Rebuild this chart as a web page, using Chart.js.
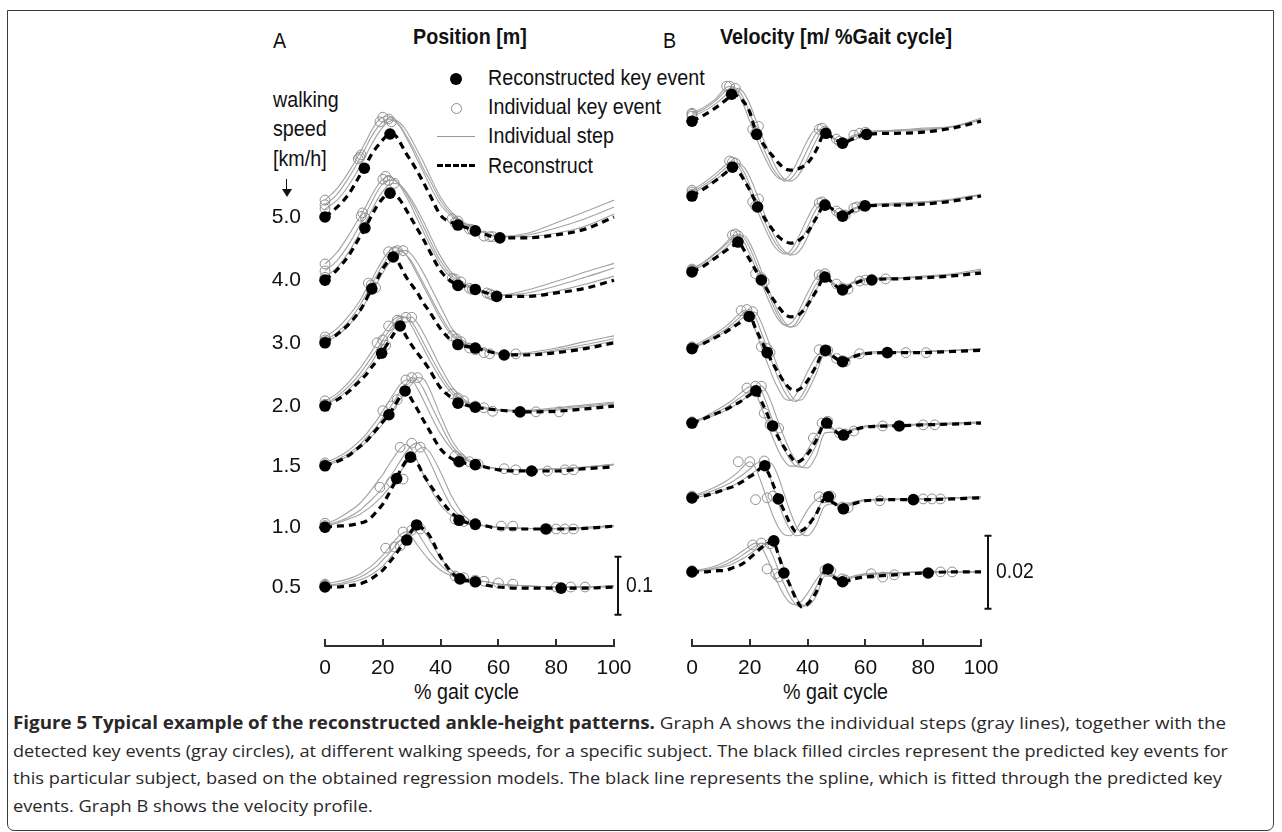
<!DOCTYPE html>
<html><head><meta charset="utf-8">
<script src="https://cdn.jsdelivr.net/npm/chart.js@4.4.0/dist/chart.umd.min.js"></script>
<style>
html,body{margin:0;padding:0;background:#fff;}
body{width:1282px;height:832px;position:relative;overflow:hidden;color:#111;font-family:"Liberation Sans",Arial,sans-serif;}
#frame{position:absolute;left:7px;top:10px;width:1267px;height:821px;border:1.5px solid #3c3c3c;border-radius:0 0 7px 7px;box-sizing:border-box;}
.t{position:absolute;white-space:nowrap;font-size:22px;line-height:22px;transform:scaleX(0.895);transform-origin:0 0;}
.b{font-weight:bold;}
canvas{position:absolute;}
.cap{position:absolute;left:13px;white-space:nowrap;font-family:"Open Sans",sans-serif;font-size:17px;line-height:20px;color:#2a2728;transform-origin:0 50%;}
.mk{position:absolute;}
</style>
</head><body>
<div id="frame"></div>
<div class="t" style="left:273px;top:30px;">A</div>
<div class="t b" style="left:413px;top:26px;">Position [m]</div>
<div class="t" style="left:663px;top:30px;">B</div>
<div class="t b" style="left:720px;top:26px;">Velocity [m/ %Gait cycle]</div>

<div class="mk" style="left:450px;top:73px;width:12px;height:12px;border-radius:50%;background:#000;"></div>
<div class="mk" style="left:451px;top:103px;width:9px;height:9px;border-radius:50%;border:1px solid #8c8c8c;"></div>
<div class="mk" style="left:437px;top:136px;width:38px;height:0;border-top:1.2px solid #9a9a9a;"></div>
<div class="mk" style="left:437px;top:164px;width:38px;height:0;border-top:3px dashed #000;"></div>
<div class="t" style="left:488px;top:67px;">Reconstructed key event</div>
<div class="t" style="left:488px;top:96px;">Individual key event</div>
<div class="t" style="left:488px;top:125px;">Individual step</div>
<div class="t" style="left:488px;top:155px;">Reconstruct</div>

<div class="t" style="left:273px;top:89px;">walking</div>
<div class="t" style="left:273px;top:118px;">speed</div>
<div class="t" style="left:273px;top:148px;">[km/h]</div>
<div class="mk" style="left:286px;top:179px;width:0;height:11px;border-left:1.6px solid #111;"></div>
<div class="mk" style="left:282px;top:189px;width:0;height:0;border-left:5px solid transparent;border-right:5px solid transparent;border-top:8px solid #111;"></div>

<div class="t" style="left:415px;top:681px;" id="xtA">% gait cycle</div>
<div class="t" style="left:782px;top:681px;" id="xtB">% gait cycle</div>

<canvas id="cA" width="440" height="640" style="left:230px;top:60px;"></canvas>
<canvas id="cB" width="420" height="640" style="left:660px;top:60px;"></canvas>

<div class="cap" id="l1" style="top:713px;"><b>Figure 5 Typical example of the reconstructed ankle-height patterns.</b> Graph A shows the individual steps (gray lines), together with the</div>
<div class="cap" id="l2" style="top:741px;">detected key events (gray circles), at different walking speeds, for a specific subject. The black filled circles represent the predicted key events for</div>
<div class="cap" id="l3" style="top:768px;">this particular subject, based on the obtained regression models. The black line represents the spline, which is fitted through the predicted key</div>
<div class="cap" id="l4" style="top:796px;">events. Graph B shows the velocity profile.</div>

<script>
// ---------- categories / ticks ----------
const speeds = ['5.0','4.0','3.0','2.0','1.5','1.0','0.5'];
const xTicks = [0,20,40,60,80,100];
const rowOffsetA = [0.638,0.529,0.421,0.312,0.209,0.103,0];      // m, vertical stacking of rows
const rowOffsetB = [0.1235,0.1030,0.0822,0.0612,0.0408,0.0203,0]; // m/%, vertical stacking of rows
const pctGrid = [0,4,8,12,14,16,18,20,22,24,26,28,30,32,34,36,40,44,48,52,56,60,70,80,90,100];
const velGrid = [0,4,8,12,14,16,18,20,22,24,26,28,30,32,34,36,38,40,43,46,49,52,56,60,70,80,90,100];
const scaleBarA = [-0.048,0.052]; // 0.1 m
const scaleBarB = [-0.0101,0.0099]; // 0.02

// ---------- Position (m) ----------
const posRec_50 = [0,.016,.038,.071,.088,.107,.121,.133,.141,.141,.128,.110,.095,.078,.060,.041,.003,-.010,-.017,-.024,-.031,-.036,-.036,-.031,-.021,0];
const posInd_50a = [.029,.048,.076,.110,.129,.148,.164,.172,.174,.167,.155,.138,.119,.098,.078,.057,.021,0,-.012,-.021,-.029,-.034,-.028,-.010,.009,.029];
const posInd_50b = [.021,.038,.066,.100,.119,.138,.153,.164,.169,.166,.157,.141,.124,.105,.084,.066,.028,.003,-.010,-.021,-.029,-.034,-.031,-.019,-.003,.017];
const posInd_50c = [.014,.028,.053,.086,.105,.124,.141,.155,.164,.167,.162,.150,.133,.114,.095,.074,.034,.007,-.009,-.019,-.029,-.034,-.034,-.028,-.016,.005];
const posKeyX_50 = [0,13.6,22.5,46,52,60.5];
const posKeyY_50 = [0,.084,.143,-.014,-.024,-.036];
const posIndKeyX_50 = [0,0,0,12,12.5,11.5,20,22,23,19,44,46,45,50,51,55,57,58];
const posIndKeyY_50 = [.029,.021,.014,.103,.107,.100,.172,.169,.164,.164,-.003,-.007,-.010,-.021,-.022,-.033,-.034,-.034];

const posRec_40 = [0,.017,.041,.074,.091,.110,.128,.141,.150,.148,.138,.122,.105,.088,.071,.052,.016,-.003,-.010,-.016,-.022,-.028,-.028,-.022,-.014,0];
const posInd_40a = [.028,.047,.076,.109,.126,.145,.162,.174,.179,.174,.162,.145,.126,.105,.084,.064,.026,.003,-.009,-.016,-.022,-.026,-.017,-.002,.014,.029];
const posInd_40b = [.016,.033,.060,.095,.114,.133,.152,.166,.172,.172,.164,.150,.133,.114,.093,.072,.033,.007,-.007,-.014,-.021,-.026,-.022,-.010,.005,.021];
const posInd_40c = [.005,.021,.047,.081,.100,.119,.138,.153,.164,.167,.164,.153,.138,.121,.102,.081,.041,.012,-.005,-.014,-.021,-.026,-.026,-.019,-.007,.007];
const posKeyX_40 = [0,13.8,22.5,46,52,59.4];
const posKeyY_40 = [0,.090,.150,-.009,-.016,-.028];
const posIndKeyX_40 = [0,0,0,13,14,12.5,20,22,24,21,44,45,47,50,51,56,57,58];
const posIndKeyY_40 = [.028,.016,.005,.116,.107,.110,.174,.172,.167,.179,.003,.002,-.003,-.014,-.016,-.022,-.024,-.026];

const posRec_30 = [0,.014,.031,.055,.072,.093,.109,.128,.141,.148,.133,.114,.100,.086,.069,.055,.024,.003,-.005,-.009,-.014,-.019,-.021,-.017,-.010,0];
const posInd_30a = [.010,.024,.045,.072,.090,.107,.126,.143,.157,.164,.162,.152,.136,.117,.098,.079,.041,.012,-.002,-.009,-.014,-.019,-.017,-.009,.002,.012];
const posInd_30b = [.005,.017,.036,.064,.081,.100,.117,.134,.148,.157,.159,.152,.140,.122,.103,.084,.047,.016,0,-.007,-.014,-.019,-.019,-.012,-.003,.007];
const posInd_30c = [.002,.012,.029,.053,.069,.086,.103,.121,.136,.148,.157,.159,.152,.138,.121,.102,.062,.024,.003,-.005,-.012,-.017,-.019,-.014,-.007,.003];
const posKeyX_30 = [0,16.2,23.6,46,52,62];
const posKeyY_30 = [0,.093,.148,-.003,-.009,-.021];
const posIndKeyX_30 = [0,0,0,15,16,17.5,22,24,27,25,44,45.5,47,50,52,55,57,66];
const posIndKeyY_30 = [.010,.005,.002,.103,.100,.095,.157,.157,.159,.159,.012,.007,.002,-.009,-.012,-.017,-.019,-.019];

const posRec_20 = [0,.010,.024,.043,.053,.066,.079,.095,.110,.126,.138,.121,.105,.091,.078,.064,.031,.014,.003,-.002,-.005,-.007,-.010,-.009,-.005,0];
const posInd_20a = [.009,.021,.040,.064,.078,.093,.109,.124,.138,.150,.155,.152,.138,.119,.100,.081,.047,.021,.007,0,-.005,-.007,-.007,-.003,.002,.007];
const posInd_20b = [.003,.016,.033,.055,.069,.083,.098,.114,.129,.143,.152,.153,.145,.129,.110,.091,.055,.026,.009,0,-.005,-.007,-.009,-.005,0,.005];
const posInd_20c = [.002,.012,.028,.048,.060,.074,.090,.105,.121,.134,.147,.153,.153,.143,.126,.107,.067,.033,.012,.002,-.003,-.007,-.009,-.007,-.002,.003];
const posKeyX_20 = [0,19.6,26,46,52,67.5];
const posKeyY_20 = [0,.091,.138,.005,-.002,-.010];
const posIndKeyX_20 = [0,0,0,18,20,21,22,25,28,30,44,46,48,52,55,58,73,81];
const posIndKeyY_20 = [.009,.003,.002,.109,.114,.105,.138,.148,.153,.153,.021,.014,.009,0,-.003,-.009,-.010,-.010];

const posRec_15 = [0,.007,.017,.033,.041,.052,.064,.076,.088,.103,.119,.129,.114,.097,.079,.062,.029,.012,.005,.002,-.003,-.007,-.009,-.009,-.005,-.002];
const posInd_15a = [.005,.014,.026,.043,.053,.066,.079,.095,.110,.126,.140,.148,.147,.133,.114,.093,.055,.028,.012,.003,-.002,-.005,-.007,-.005,-.002,.003];
const posInd_15b = [.002,.010,.021,.036,.047,.057,.069,.083,.097,.112,.128,.141,.152,.148,.133,.112,.071,.034,.014,.003,-.002,-.005,-.007,-.005,-.002,.002];
const posInd_15c = [0,.007,.017,.031,.040,.050,.060,.072,.086,.100,.114,.128,.141,.152,.150,.134,.086,.043,.017,.005,-.002,-.005,-.007,-.005,-.003,.002];
const posKeyX_15 = [0,22.1,27.7,46.4,52,71.5];
const posKeyY_15 = [0,.088,.129,.007,.002,-.009];
const posIndKeyX_15 = [0,0,0,20,23,25,28,30,32,45,47,50,53,62,66,77,83,86];
const posIndKeyY_15 = [.005,.002,0,.095,.103,.114,.148,.152,.152,.017,.012,.007,.003,-.005,-.007,-.009,-.007,-.007];

const posRec_10 = [0,.002,.003,.007,.010,.017,.028,.040,.057,.076,.097,.114,.121,.110,.091,.076,.047,.024,.010,.005,.002,-.002,-.003,-.003,-.002,.002];
const posInd_10a = [.005,.014,.026,.041,.052,.064,.078,.091,.107,.122,.136,.143,.134,.114,.091,.071,.038,.019,.009,.005,.002,0,-.002,-.002,0,.003];
const posInd_10b = [.003,.009,.017,.029,.038,.047,.057,.069,.083,.098,.114,.129,.141,.145,.134,.116,.072,.034,.014,.005,.002,0,-.002,-.002,0,.002];
const posInd_10c = [.002,.007,.014,.022,.029,.036,.045,.055,.067,.081,.095,.109,.121,.133,.138,.131,.095,.052,.021,.007,.002,0,-.002,-.003,-.002,.002];
const posKeyX_10 = [0,24.8,29.6,46.4,52,76.4];
const posKeyY_10 = [0,.084,.121,.012,.005,-.003];
const posIndKeyX_10 = [0,0,0,19,23,27,26,30,33,45,48,52,61,65,77,80,83,86];
const posIndKeyY_10 = [.007,.003,0,.069,.078,.083,.138,.145,.138,.014,.010,.007,.002,.002,-.003,-.003,-.003,-.003];

const posRec_05 = [0,0,.002,.005,.009,.014,.021,.029,.041,.053,.067,.079,.097,.107,.100,.090,.052,.024,.012,.009,.003,0,-.002,-.002,-.002,0];
const posInd_05a = [.005,.009,.014,.022,.029,.036,.045,.055,.067,.079,.090,.095,.086,.072,.059,.047,.029,.019,.014,.010,.009,.005,.002,0,0,.002];
const posInd_05b = [.003,.005,.010,.017,.022,.029,.036,.047,.057,.069,.081,.091,.098,.093,.078,.062,.038,.022,.016,.012,.009,.005,.002,0,0,.002];
const posInd_05c = [.002,.003,.007,.012,.016,.021,.028,.036,.047,.059,.071,.083,.093,.100,.097,.083,.050,.028,.017,.012,.009,.005,.002,0,0,0];
const posKeyX_05 = [0,28.3,31.7,46.7,52,81.7];
const posKeyY_05 = [0,.081,.107,.014,.009,-.002];
const posIndKeyX_05 = [0,0,0,21,24,26,27,30,33,45,48,52,55,60,65,80,85,90];
const posIndKeyY_05 = [.005,.003,.002,.067,.069,.071,.095,.098,.100,.019,.016,.012,.010,.007,.005,0,0,0];

// ---------- Velocity (m / % gait cycle) ----------
const velRec_50 = [0,.0016,.0036,.0060,.0074,.0068,.0052,.0025,-.0027,-.0055,-.0077,-.0096,-.0115,-.0129,-.0134,-.0132,-.0126,-.0115,-.0079,-.0033,-.0047,-.0060,-.0047,-.0036,-.0033,-.0030,-.0019,0];
const velInd_50a = [.0022,.0038,.0060,.0093,.0096,.0077,.0041,0,-.0041,-.0079,-.0112,-.0140,-.0156,-.0159,-.0145,-.0118,-.0085,-.0052,-.0022,-.0027,-.0049,-.0055,-.0038,-.0030,-.0025,-.0019,-.0014,.0008];
const velInd_50b = [.0019,.0033,.0055,.0085,.0093,.0085,.0060,.0022,-.0019,-.0060,-.0096,-.0129,-.0151,-.0164,-.0159,-.0140,-.0110,-.0077,-.0033,-.0022,-.0047,-.0058,-.0041,-.0030,-.0025,-.0022,-.0016,.0005];
const velInd_50c = [.0014,.0027,.0047,.0074,.0088,.0090,.0077,.0047,.0005,-.0036,-.0074,-.0110,-.0140,-.0159,-.0164,-.0156,-.0134,-.0101,-.0052,-.0019,-.0044,-.0060,-.0044,-.0033,-.0027,-.0025,-.0016,.0003];
const velKeyX_50 = [0,13.7,22.4,46.3,52.1,60.4];
const velKeyY_50 = [0,.0074,-.0036,-.0033,-.0060,-.0036];
const velIndKeyX_50 = [0,0,0,12,13,15,21,22,23,44,45,46,50,51,52,56,58,60];
const velIndKeyY_50 = [.0022,.0019,.0014,.0096,.0096,.0090,-.0022,-.0033,-.0014,-.0022,-.0019,-.0027,-.0049,-.0055,-.0060,-.0038,-.0033,-.0030];

const velRec_40 = [0,.0019,.0041,.0066,.0079,.0068,.0044,.0016,-.0016,-.0047,-.0071,-.0093,-.0112,-.0123,-.0129,-.0126,-.0115,-.0099,-.0060,-.0025,-.0038,-.0055,-.0038,-.0027,-.0025,-.0022,-.0014,0];
const velInd_40a = [.0016,.0036,.0060,.0088,.0096,.0082,.0052,.0014,-.0027,-.0066,-.0101,-.0132,-.0151,-.0159,-.0151,-.0126,-.0093,-.0060,-.0022,-.0019,-.0041,-.0049,-.0033,-.0025,-.0019,-.0016,-.0008,.0005];
const velInd_40b = [.0011,.0030,.0052,.0079,.0090,.0088,.0066,.0030,-.0011,-.0049,-.0085,-.0118,-.0142,-.0156,-.0159,-.0145,-.0118,-.0085,-.0036,-.0016,-.0041,-.0052,-.0036,-.0027,-.0022,-.0016,-.0011,.0003];
const velInd_40c = [.0005,.0025,.0044,.0068,.0082,.0090,.0079,.0052,.0014,-.0027,-.0066,-.0101,-.0132,-.0151,-.0162,-.0159,-.0142,-.0112,-.0060,-.0022,-.0038,-.0052,-.0036,-.0027,-.0025,-.0019,-.0011,.0003];
const velKeyX_40 = [0,14,22.7,46,52.1,59.9];
const velKeyY_40 = [0,.0079,-.0030,-.0025,-.0055,-.0027];
const velIndKeyX_40 = [0,0,0,13,14,15,21,22,23,44,45,46,50,51,53,56,57,59];
const velIndKeyY_40 = [.0016,.0011,.0005,.0096,.0093,.0090,-.0016,-.0027,-.0008,-.0019,-.0016,-.0022,-.0041,-.0047,-.0052,-.0033,-.0030,-.0027];

const velRec_30 = [0,.0016,.0038,.0060,.0071,.0082,.0060,.0033,.0005,-.0022,-.0049,-.0074,-.0096,-.0115,-.0123,-.0121,-.0110,-.0090,-.0052,-.0014,-.0033,-.0049,-.0033,-.0022,-.0019,-.0016,-.0011,-.0003];
const velInd_30a = [.0008,.0027,.0052,.0082,.0099,.0101,.0082,.0049,.0011,-.0030,-.0068,-.0104,-.0132,-.0145,-.0142,-.0123,-.0090,-.0058,-.0016,-.0008,-.0030,-.0041,-.0027,-.0019,-.0016,-.0011,-.0005,.0008];
const velInd_30b = [.0005,.0025,.0049,.0077,.0093,.0104,.0093,.0066,.0027,-.0014,-.0052,-.0090,-.0123,-.0145,-.0151,-.0140,-.0112,-.0079,-.0033,-.0011,-.0033,-.0044,-.0027,-.0019,-.0016,-.0014,-.0008,.0003];
const velInd_30c = [.0003,.0019,.0041,.0068,.0085,.0099,.0099,.0079,.0044,.0003,-.0038,-.0077,-.0112,-.0137,-.0151,-.0148,-.0129,-.0099,-.0049,-.0014,-.0036,-.0047,-.0030,-.0022,-.0019,-.0014,-.0008,.0003];
const velKeyX_30 = [0,15.9,24,46,52.1,62.2];
const velKeyY_30 = [0,.0082,-.0022,-.0014,-.0049,-.0022];
const velIndKeyX_30 = [0,0,0,14,15,16,22,24,25,44,45,46,50,52,54,58,60,67];
const velIndKeyY_30 = [.0008,.0005,.0003,.0101,.0104,.0099,-.0005,-.0016,-.0027,-.0008,-.0011,-.0005,-.0033,-.0044,-.0047,-.0025,-.0022,-.0019];

const velRec_20 = [0,.0014,.0030,.0047,.0058,.0068,.0079,.0088,.0055,.0022,-.0011,-.0041,-.0068,-.0093,-.0110,-.0115,-.0107,-.0088,-.0047,-.0005,-.0022,-.0036,-.0022,-.0014,-.0011,-.0011,-.0008,-.0005];
const velInd_20a = [.0005,.0022,.0041,.0063,.0077,.0093,.0104,.0090,.0049,.0005,-.0038,-.0079,-.0112,-.0137,-.0142,-.0126,-.0096,-.0063,-.0022,-.0003,-.0022,-.0030,-.0019,-.0011,-.0008,-.0008,-.0005,0];
const velInd_20b = [.0003,.0016,.0036,.0055,.0068,.0082,.0099,.0107,.0085,.0044,0,-.0044,-.0085,-.0118,-.0140,-.0145,-.0129,-.0099,-.0047,-.0008,-.0025,-.0033,-.0019,-.0011,-.0008,-.0008,-.0005,0];
const velInd_20c = [0,.0014,.0030,.0049,.0060,.0074,.0088,.0101,.0099,.0071,.0030,-.0014,-.0058,-.0096,-.0126,-.0142,-.0140,-.0118,-.0068,-.0014,-.0027,-.0036,-.0022,-.0014,-.0011,-.0008,-.0005,-.0003];
const velKeyX_20 = [0,19.8,26,46.2,52.1,67.6];
const velKeyY_20 = [0,.0088,-.0011,-.0005,-.0036,-.0011];
const velIndKeyX_20 = [0,0,0,17,19,21,24,26,27,44,46,47,50,52,53,58,74,81];
const velIndKeyY_20 = [.0005,.0003,0,.0104,.0107,.0101,.0005,0,-.0011,-.0003,-.0008,-.0005,-.0027,-.0033,-.0036,-.0014,-.0011,-.0011];

const velRec_15 = [0,.0011,.0025,.0038,.0047,.0055,.0066,.0077,.0088,.0060,.0025,-.0011,-.0041,-.0068,-.0090,-.0107,-.0101,-.0085,-.0047,-.0003,-.0019,-.0033,-.0019,-.0011,-.0008,-.0005,-.0003,0];
const velInd_15a = [.0003,.0016,.0033,.0052,.0063,.0077,.0090,.0099,.0082,.0044,0,-.0041,-.0077,-.0104,-.0118,-.0118,-.0101,-.0074,-.0033,.0003,-.0016,-.0027,-.0016,-.0008,-.0005,-.0003,0,.0003];
const velInd_15b = [.0003,.0014,.0027,.0044,.0055,.0066,.0077,.0090,.0101,.0088,.0049,.0005,-.0038,-.0074,-.0101,-.0118,-.0121,-.0104,-.0060,-.0005,-.0019,-.0030,-.0016,-.0008,-.0005,-.0003,0,.0003];
const velInd_15c = [0,.0011,.0022,.0036,.0044,.0055,.0066,.0079,.0093,.0101,.0082,.0044,0,-.0041,-.0077,-.0104,-.0121,-.0123,-.0090,-.0027,-.0025,-.0033,-.0019,-.0011,-.0008,-.0005,-.0003,0];
const velKeyX_15 = [0,22.1,27.9,46.6,52.4,71.7];
const velKeyY_15 = [0,.0088,-.0008,0,-.0033,-.0008];
const velIndKeyX_15 = [0,0,0,19,22,24,25,27,30,42,45,47,51,53,56,66,80,84];
const velIndKeyY_15 = [.0003,.0003,0,.0096,.0101,.0101,.0027,-.0005,-.0014,-.0041,0,.0005,-.0027,-.0030,-.0022,-.0008,-.0005,-.0005];

const velRec_10 = [0,.0005,.0014,.0025,.0030,.0038,.0047,.0058,.0068,.0082,.0074,.0038,-.0003,-.0038,-.0071,-.0093,-.0090,-.0077,-.0044,-.0003,-.0014,-.0027,-.0016,-.0008,-.0005,-.0005,-.0003,0];
const velInd_10a = [.0005,.0016,.0030,.0047,.0058,.0071,.0088,.0099,.0082,.0041,-.0005,-.0049,-.0082,-.0101,-.0104,-.0088,-.0060,-.0033,-.0005,.0005,-.0011,-.0022,-.0011,-.0005,-.0003,-.0003,0,.0003];
const velInd_10b = [.0003,.0011,.0022,.0036,.0044,.0055,.0066,.0079,.0093,.0099,.0077,.0033,-.0016,-.0058,-.0088,-.0104,-.0101,-.0082,-.0041,0,-.0014,-.0025,-.0014,-.0005,-.0003,-.0003,0,.0003];
const velInd_10c = [0,.0005,.0014,.0025,.0033,.0041,.0052,.0063,.0074,.0085,.0099,.0090,.0055,.0008,-.0038,-.0077,-.0099,-.0104,-.0074,-.0022,-.0016,-.0027,-.0016,-.0008,-.0005,-.0003,0,0];
const velKeyX_10 = [0,25.2,29.9,47.2,52.4,76.6];
const velKeyY_10 = [0,.0088,-.0003,.0003,-.0030,-.0005];
const velIndKeyX_10 = [0,0,0,16,20,25,22,26,28,44,46,48,52,54,65,80,83,86];
const velIndKeyY_10 = [.0005,.0003,0,.0099,.0099,.0101,-.0005,0,.0005,.0003,0,.0005,-.0025,-.0027,-.0008,-.0003,-.0003,-.0003];

const velRec_05 = [0,0,.0003,.0005,.0011,.0016,.0025,.0038,.0052,.0066,.0077,.0085,.0044,-.0003,-.0038,-.0074,-.0096,-.0088,-.0055,0,-.0014,-.0027,-.0019,-.0014,-.0008,-.0003,0,0];
const velInd_05a = [.0003,.0008,.0016,.0030,.0038,.0049,.0060,.0071,.0079,.0068,.0038,0,-.0036,-.0066,-.0085,-.0090,-.0079,-.0058,-.0022,.0005,-.0008,-.0019,-.0011,-.0005,-.0003,0,0,0];
const velInd_05b = [.0003,.0005,.0011,.0022,.0030,.0038,.0049,.0060,.0071,.0079,.0074,.0044,.0003,-.0036,-.0068,-.0090,-.0096,-.0082,-.0041,.0003,-.0011,-.0022,-.0014,-.0005,-.0003,0,0,0];
const velInd_05c = [0,.0003,.0008,.0016,.0022,.0030,.0038,.0049,.0060,.0071,.0079,.0077,.0049,.0008,-.0033,-.0068,-.0090,-.0093,-.0066,-.0011,-.0014,-.0025,-.0014,-.0008,-.0003,0,0,0];
const velKeyX_05 = [0,28.3,31.8,47.1,52.1,81.7];
const velKeyY_05 = [0,.0085,-.0003,.0008,-.0027,-.0003];
const velIndKeyX_05 = [0,0,0,21,24,27,26,29,30,46,48,52,53,62,66,70,86,90];
const velIndKeyY_05 = [.0003,.0003,0,.0074,.0079,.0077,.0008,-.0005,-.0014,.0005,.0003,-.0019,-.0022,-.0005,-.0014,-.0008,0,0];

// ---------- assemble ----------
const posRows = [
  [posRec_50,[posInd_50a,posInd_50b,posInd_50c],posKeyX_50,posKeyY_50,posIndKeyX_50,posIndKeyY_50],
  [posRec_40,[posInd_40a,posInd_40b,posInd_40c],posKeyX_40,posKeyY_40,posIndKeyX_40,posIndKeyY_40],
  [posRec_30,[posInd_30a,posInd_30b,posInd_30c],posKeyX_30,posKeyY_30,posIndKeyX_30,posIndKeyY_30],
  [posRec_20,[posInd_20a,posInd_20b,posInd_20c],posKeyX_20,posKeyY_20,posIndKeyX_20,posIndKeyY_20],
  [posRec_15,[posInd_15a,posInd_15b,posInd_15c],posKeyX_15,posKeyY_15,posIndKeyX_15,posIndKeyY_15],
  [posRec_10,[posInd_10a,posInd_10b,posInd_10c],posKeyX_10,posKeyY_10,posIndKeyX_10,posIndKeyY_10],
  [posRec_05,[posInd_05a,posInd_05b,posInd_05c],posKeyX_05,posKeyY_05,posIndKeyX_05,posIndKeyY_05]
];
const velRows = [
  [velRec_50,[velInd_50a,velInd_50b,velInd_50c],velKeyX_50,velKeyY_50,velIndKeyX_50,velIndKeyY_50],
  [velRec_40,[velInd_40a,velInd_40b,velInd_40c],velKeyX_40,velKeyY_40,velIndKeyX_40,velIndKeyY_40],
  [velRec_30,[velInd_30a,velInd_30b,velInd_30c],velKeyX_30,velKeyY_30,velIndKeyX_30,velIndKeyY_30],
  [velRec_20,[velInd_20a,velInd_20b,velInd_20c],velKeyX_20,velKeyY_20,velIndKeyX_20,velIndKeyY_20],
  [velRec_15,[velInd_15a,velInd_15b,velInd_15c],velKeyX_15,velKeyY_15,velIndKeyX_15,velIndKeyY_15],
  [velRec_10,[velInd_10a,velInd_10b,velInd_10c],velKeyX_10,velKeyY_10,velIndKeyX_10,velIndKeyY_10],
  [velRec_05,[velInd_05a,velInd_05b,velInd_05c],velKeyX_05,velKeyY_05,velIndKeyX_05,velIndKeyY_05]
];

function buildDatasets(rows, grid, offs) {
  const ds = [];
  rows.forEach((r, i) => {
    const off = offs[i];
    const [rec, inds, kx, ky, ikx, iky] = r;
    inds.forEach(arr => ds.push({
      data: grid.map((x, j) => ({x, y: arr[j] + off})),
      borderColor: '#a3a3a3', borderWidth: 1.1, pointRadius: 0,
      cubicInterpolationMode: 'monotone', order: 3, clip: false
    }));
    ds.push({
      data: ikx.map((x, j) => ({x, y: iky[j] + off})), showLine: false,
      pointRadius: 4.9, pointBorderWidth: 1, pointBorderColor: '#8f8f8f',
      pointBackgroundColor: 'rgba(255,255,255,0)', order: 2, clip: false
    });
    ds.push({
      data: grid.map((x, j) => ({x, y: rec[j] + off})),
      borderColor: '#000', borderWidth: 3.2, borderDash: [7, 5], pointRadius: 0,
      cubicInterpolationMode: 'monotone', order: 1, clip: false
    });
    ds.push({
      data: kx.map((x, j) => ({x, y: ky[j] + off})), showLine: false,
      pointRadius: 5.8, pointBorderWidth: 0, pointBackgroundColor: '#000',
      order: 0, clip: false
    });
  });
  return ds;
}

const FONT = '"Liberation Sans",Arial,sans-serif';

function axisPlugin(bar, label, gap) {
  return {
    id: 'axisDeco',
    afterDraw(chart) {
      const ctx = chart.ctx, xs = chart.scales.x, ys = chart.scales.y, b = chart.chartArea.bottom;
      ctx.save();
      ctx.strokeStyle = '#2e2e2e'; ctx.lineWidth = 2;
      xTicks.forEach(v => {
        const px = Math.round(xs.getPixelForValue(v));
        ctx.beginPath(); ctx.moveTo(px, b); ctx.lineTo(px, b - 7); ctx.stroke();
      });
      // scale bar
      const bx = xs.right + gap;
      const y0 = ys.getPixelForValue(bar[0]), y1 = ys.getPixelForValue(bar[1]);
      ctx.lineWidth = 2; ctx.strokeStyle = '#111';
      ctx.beginPath(); ctx.moveTo(bx, y0); ctx.lineTo(bx, y1);
      ctx.moveTo(bx - 3.5, y0); ctx.lineTo(bx + 3.5, y0);
      ctx.moveTo(bx - 3.5, y1); ctx.lineTo(bx + 3.5, y1); ctx.stroke();
      ctx.fillStyle = '#111'; ctx.font = '22px ' + FONT;
      ctx.textBaseline = 'middle'; ctx.textAlign = 'left';
      ctx.translate(bx + 8, (y0 + y1) / 2); ctx.scale(0.88, 1);
      ctx.fillText(label, 0, 0);
      ctx.restore();
    }
  };
}

function makeChart(id, rows, grid, offs, yMin, yMax, showLabels, yWidth, bar, barLabel, gap, padL, padR) {
  return new Chart(document.getElementById(id), {
    type: 'line',
    data: { datasets: buildDatasets(rows, grid, offs) },
    options: {
      responsive: false, animation: false, events: [],
      layout: { padding: { left: padL, right: padR, top: 20, bottom: 14 } },
      plugins: { legend: { display: false }, tooltip: { enabled: false } },
      scales: {
        x: {
          type: 'linear', min: 0, max: 100,
          afterBuildTicks: s => { s.ticks = xTicks.map(v => ({ value: v })); },
          afterFit: s => { s.height = 40; },
          grid: { display: false },
          border: { display: true, color: '#2e2e2e', width: 2 },
          ticks: { autoSkip: false, maxRotation: 0, padding: 2, color: '#111', font: { family: FONT, size: 21 } }
        },
        y: {
          type: 'linear', min: yMin, max: yMax, display: showLabels,
          afterBuildTicks: s => { s.ticks = offs.map(v => ({ value: v })); },
          afterFit: s => { s.width = yWidth; s.paddingTop = 0; s.paddingBottom = 0; },
          grid: { display: false }, border: { display: false },
          ticks: { autoSkip: false, padding: 16, color: '#111', font: { family: FONT, size: 21 },
                   callback: (v, i) => speeds[i] }
        }
      }
    },
    plugins: [axisPlugin(bar, barLabel, gap)]
  });
}

makeChart('cA', posRows, pctGrid, rowOffsetA, -0.1017, 0.8741, true, 95, scaleBarA, '0.1', 4, 0, 56);
makeChart('cB', velRows, velGrid, rowOffsetB, -0.0203, 0.1348, false, 0, scaleBarB, '0.02', 7, 32, 99);

// fit caption lines to the printed width
const targets = { l1: 1213, l2: 1215, l3: 1209 };
let lastS = 1;
['l1','l2','l3','l4'].forEach(id => {
  const el = document.getElementById(id);
  const w = el.getBoundingClientRect().width;
  const s = targets[id] ? targets[id] / w : lastS;
  el.style.transform = 'scaleX(' + s + ')';
  lastS = s;
});
// center axis titles
[['xtA', 467], ['xtB', 836]].forEach(([id, c]) => {
  const el = document.getElementById(id);
  el.style.left = (c - el.getBoundingClientRect().width / 2) + 'px';
});
</script>
</body></html>
